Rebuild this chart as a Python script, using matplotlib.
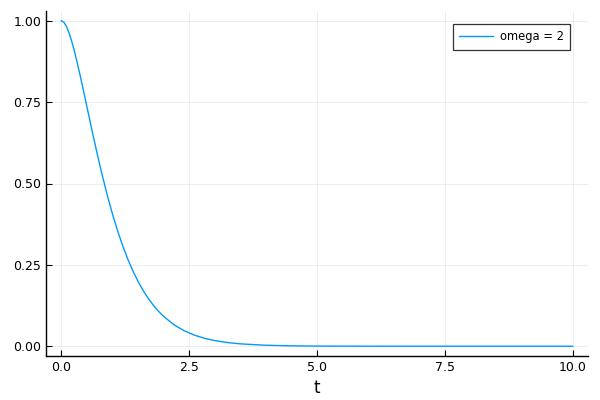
import matplotlib
matplotlib.use('Agg')
from matplotlib import rcParams
from matplotlib import pyplot as plt

rcParams['font.family'] = 'DejaVu Sans'

# values
t = [0.0, 0.05, 0.1, 0.15, 0.2, 0.25, 0.3, 0.4, 0.5, 0.6, 0.7, 0.8, 0.9, 1.0,
     1.1, 1.2, 1.3, 1.4, 1.5, 1.6, 1.7, 1.8, 1.9, 2.0, 2.2, 2.4, 2.6, 2.8, 3.0,
     3.25, 3.5, 4.0, 4.5, 5.0, 6.0, 7.0, 8.0, 9.0, 10.0]
y = [1.0, 0.9953, 0.9825, 0.9631, 0.9384, 0.9098, 0.8781, 0.8088, 0.7358, 0.6626,
     0.5918, 0.5249, 0.4628, 0.4060, 0.3546, 0.3084, 0.2674, 0.2311, 0.1991, 0.1712,
     0.1468, 0.1257, 0.1074, 0.0916, 0.0663, 0.0477, 0.0342, 0.0244, 0.0174,
     0.0113, 0.0073, 0.0030, 0.0012, 0.0005, 0.0001, 0.0, 0.0, 0.0, 0.0]
series_label = 'omega = 2'
xticks = [0.0, 2.5, 5.0, 7.5, 10.0]
yticks = [0.0, 0.25, 0.5, 0.75, 1.0]

fig = plt.figure(figsize=(6, 4), dpi=100)
ax = fig.add_axes([0.0767, 0.11, 0.9033, 0.8625])

ax.plot(t, y, color='#009AFA', lw=1.0, label=series_label)

ax.set_xlim(-0.3, 10.3)
ax.set_ylim(-0.03, 1.03)
ax.set_xticks(xticks)
ax.set_xticklabels(['%.1f' % v for v in xticks])
ax.set_yticks(yticks)
ax.set_yticklabels(['%.2f' % v for v in yticks])
ax.tick_params(direction='in', length=4, width=0.8, labelsize=9, colors='black')
ax.grid(True, color='black', alpha=0.08, lw=0.6)
ax.set_xlabel('t', fontsize=12)

for side in ['top', 'right']:
    ax.spines[side].set_visible(False)
for side in ['left', 'bottom']:
    ax.spines[side].set_linewidth(1.0)

leg = ax.legend(loc='upper right', fontsize=8.3, fancybox=False, framealpha=1,
                edgecolor='#333333', handlelength=2.9, handletextpad=0.6,
                borderpad=0.55, borderaxespad=0,
                bbox_to_anchor=(0.967, 0.962))
leg.get_frame().set_linewidth(0.9)

fig.savefig('out.png', dpi=100)
